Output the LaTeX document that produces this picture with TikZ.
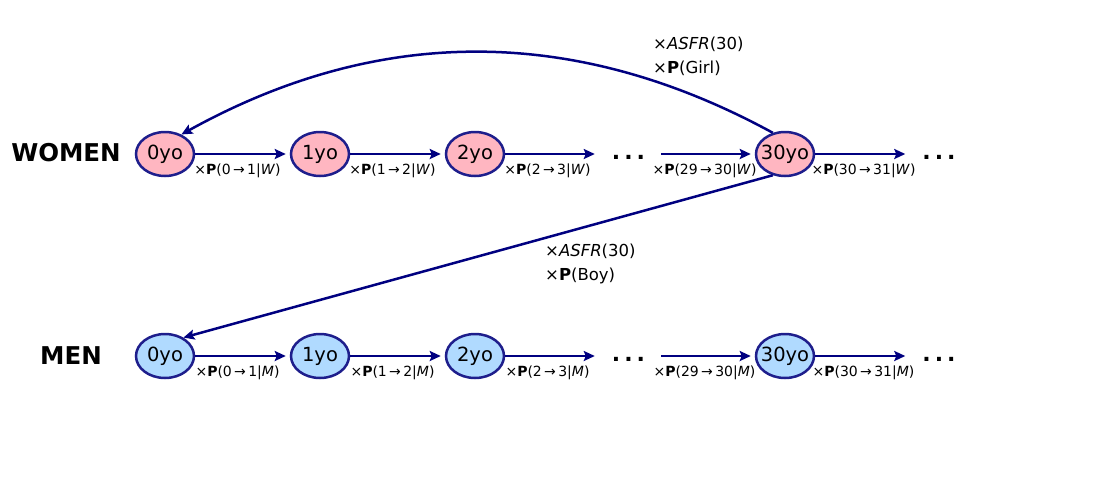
\documentclass[tikz,border=0pt]{standalone}
\usepackage{fontspec}
\setmainfont{DejaVu Sans}
\usetikzlibrary{arrows.meta,shapes.geometric}
\definecolor{edgec}{RGB}{30,30,140}
\definecolor{arr}{RGB}{0,0,128}
\definecolor{pinkf}{RGB}{255,182,193}
\definecolor{bluef}{RGB}{176,218,255}
\newcommand{\tr}[3]{×\textbf{P}(#1\,→\,#2|\textit{#3})}
\newcommand{\mydots}{.\hspace{4pt}.\hspace{4pt}.}
\begin{document}
\begin{tikzpicture}[x=1pt,y=-1pt,
 age/.style={ellipse, draw=edgec, line width=2.5pt, minimum width=58pt, minimum height=44pt, inner ysep=0pt, inner xsep=-5pt, font=\fontsize{19.5}{22}\selectfont},
 wnode/.style={age, fill=pinkf}, mnode/.style={age, fill=bluef},
 dotsnode/.style={inner xsep=13pt, inner ysep=0pt, font=\fontsize{22}{24}\selectfont\bfseries},
 flow/.style={draw=arr, line width=2.5pt, -{Stealth[length=11pt,width=10pt,inset=2pt]}, shorten >=4pt},
 lab/.style={font=\fontsize{14}{16}\selectfont, inner sep=0pt},
 sexlab/.style={font=\fontsize{24.5}{26}\selectfont\bfseries},
 note/.style={font=\fontsize{16.5}{24}\selectfont, align=left, anchor=west, inner sep=0pt}]
\useasboundingbox (0,0) rectangle (1105,482);
% women row
\node[sexlab] (women) at (66,153) {WOMEN};
\node[wnode] (w0) at (165,154) {0yo};
\node[wnode] (w1) at (320,154) {1yo};
\node[wnode] (w2) at (475,154) {2yo};
\node[dotsnode] (wd1) at (628.5,157) {\mydots};
\node[wnode] (w30) at (785,154) {30yo};
\node[dotsnode] (wd2) at (939,157) {\mydots};
\draw[flow] (w0) -- (w1);
\draw[flow] (w1) -- (w2);
\draw[flow] (w2.east) -- (w2.east -| wd1.west);
\draw[flow] ([xshift=3pt]w30.west -| wd1.east) -- (w30.west);
\draw[flow] (w30.east) -- (w30.east -| wd2.west);
\node[lab] (lw1) at (237.5,171) {\tr{0}{1}{W}};
\node[lab] (lw2) at (392.5,171) {\tr{1}{2}{W}};
\node[lab] (lw3) at (547.5,171) {\tr{2}{3}{W}};
\node[lab] (lw30) at (704.5,171) {\tr{29}{30}{W}};
\node[lab] (lw31) at (863.5,171) {\tr{30}{31}{W}};
% men row
\node[sexlab] (men) at (71,356) {MEN};
\node[mnode] (m0) at (165,356) {0yo};
\node[mnode] (m1) at (320,356) {1yo};
\node[mnode] (m2) at (475,356) {2yo};
\node[dotsnode] (md1) at (628.5,359) {\mydots};
\node[mnode] (m30) at (785,356) {30yo};
\node[dotsnode] (md2) at (939,359) {\mydots};
\draw[flow] (m0) -- (m1);
\draw[flow] (m1) -- (m2);
\draw[flow] (m2.east) -- (m2.east -| md1.west);
\draw[flow] ([xshift=3pt]m30.west -| md1.east) -- (m30.west);
\draw[flow] (m30.east) -- (m30.east -| md2.west);
\node[lab] (lm1) at (237.5,373) {\tr{0}{1}{M}};
\node[lab] (lm2) at (392.5,373) {\tr{1}{2}{M}};
\node[lab] (lm3) at (547.5,373) {\tr{2}{3}{M}};
\node[lab] (lm30) at (704.5,373) {\tr{29}{30}{M}};
\node[lab] (lm31) at (863.5,373) {\tr{30}{31}{M}};
% births
\draw[flow, shorten >=0pt] (w30.120) .. controls (575,25) and (379,25) .. (w0.50);
\draw[flow, shorten >=0pt] (w30.240) -- (m0.45);
\node[note] (girl) at (653,56) {×\textit{ASFR}(30)\\×\textbf{P}(Girl)};
\node[note] (boy) at (545,263.5) {×\textit{ASFR}(30)\\×\textbf{P}(Boy)};
\end{tikzpicture}
\end{document}
